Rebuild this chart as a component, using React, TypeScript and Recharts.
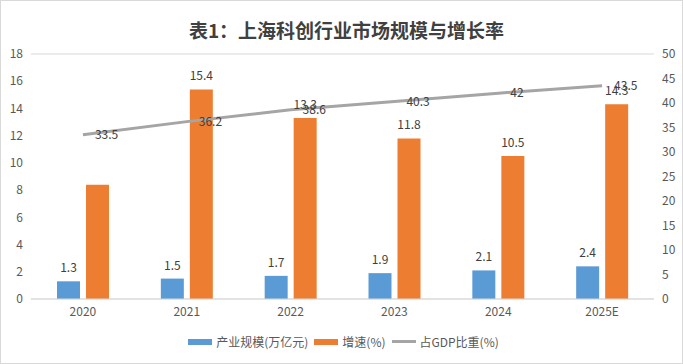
import React from 'react';
import {
    ComposedChart,
    Bar,
    Line,
    XAxis,
    YAxis,
    CartesianGrid,
    LabelList,
} from 'recharts';

const years = ['2020', '2021', '2022', '2023', '2024', '2025E'];
const scaleValues = [1.3, 1.5, 1.7, 1.9, 2.1, 2.4];
const growthValues = [8.4, 15.4, 13.3, 11.8, 10.5, 14.3];
// the 2020 growth bar has no label in the original
const growthLabelShown = [false, true, true, true, true, true];
const gdpShareValues = [33.5, 36.2, 38.6, 40.3, 42, 43.5];
const leftTicks = [0, 2, 4, 6, 8, 10, 12, 14, 16, 18];
const rightTicks = [0, 5, 10, 15, 20, 25, 30, 35, 40, 45, 50];

const seriesNames = ['产业规模(万亿元)', '增速(%)', '占GDP比重(%)'];
const colors = ['#5B9BD5', '#ED7D31', '#A5A5A5'];

const FONT = '"Noto Sans CJK SC", "Noto Sans", sans-serif';

const chartData = years.map((year, i) => ({
    year,
    scale: scaleValues[i],
    growth: growthValues[i],
    share: gdpShareValues[i],
}));

const BarTopLabel = ({ x, y, width, value, index, hideFor }: any) => {
    if (hideFor && !hideFor[index]) return null;
    return (
        <text
            x={Number(x) + Number(width) / 2}
            y={Number(y) - 9}
            textAnchor="middle"
            fontSize={12}
            fontFamily={FONT}
            fill="#404040"
        >
            {value}
        </text>
    );
};

const LegendBox = () => (
    <div
        style={{
            position: 'absolute',
            top: 332,
            left: 0,
            width: 683,
            display: 'flex',
            justifyContent: 'center',
            alignItems: 'center',
            fontFamily: FONT,
            fontSize: 12,
            color: '#595959',
            paddingLeft: 4,
        }}
    >
        {seriesNames.map((name, i) => (
            <div key={name} style={{ display: 'flex', alignItems: 'center', marginRight: 6 }}>
                <span
                    style={{
                        display: 'inline-block',
                        width: 24,
                        height: i === 2 ? 3 : 6,
                        background: colors[i],
                        marginRight: 4,
                    }}
                />
                <span>{name}</span>
            </div>
        ))}
    </div>
);

export default function App() {
    return (
        <div
            style={{
                position: 'relative',
                width: 683,
                height: 364,
                background: '#fff',
                boxSizing: 'border-box',
                border: '1px solid #d9d9d9',
                overflow: 'hidden',
            }}
        >
            <style>{'body{margin:0;}'}</style>
            <div
                style={{
                    position: 'absolute',
                    top: 15,
                    left: 0,
                    width: 683,
                    textAlign: 'center',
                    fontFamily: FONT,
                    fontWeight: 700,
                    fontSize: 19,
                    color: '#404040',
                    paddingLeft: 4,
                }}
            >
                表1：上海科创行业市场规模与增长率
            </div>
            <ComposedChart
                width={681}
                height={362}
                data={chartData}
                margin={{ top: 53, right: 0, left: 0, bottom: 34 }}
                barGap={6}
                style={{ position: 'absolute', top: 0, left: 0 }}
            >
                <CartesianGrid vertical={false} stroke="#d9d9d9" />
                <XAxis
                    dataKey="year"
                    height={30}
                    tickLine={false}
                    axisLine={{ stroke: '#d9d9d9' }}
                    tick={{ fontSize: 12, fill: '#595959', fontFamily: FONT }}
                />
                <YAxis
                    yAxisId="left"
                    width={30}
                    domain={[0, 18]}
                    ticks={leftTicks}
                    tickLine={false}
                    axisLine={false}
                    tick={{ fontSize: 12, fill: '#595959', fontFamily: FONT }}
                />
                <YAxis
                    yAxisId="right"
                    orientation="right"
                    width={28}
                    domain={[0, 50]}
                    ticks={rightTicks}
                    tickLine={false}
                    axisLine={false}
                    tick={{ fontSize: 12, fill: '#595959', fontFamily: FONT }}
                />
                <Bar
                    yAxisId="left"
                    dataKey="scale"
                    name={seriesNames[0]}
                    fill={colors[0]}
                    barSize={23}
                    isAnimationActive={false}
                >
                    <LabelList dataKey="scale" content={<BarTopLabel />} />
                </Bar>
                <Bar
                    yAxisId="left"
                    dataKey="growth"
                    name={seriesNames[1]}
                    fill={colors[1]}
                    barSize={23}
                    isAnimationActive={false}
                >
                    <LabelList dataKey="growth" content={<BarTopLabel hideFor={growthLabelShown} />} />
                </Bar>
                <Line
                    yAxisId="right"
                    type="linear"
                    dataKey="share"
                    name={seriesNames[2]}
                    stroke={colors[2]}
                    strokeWidth={3}
                    dot={false}
                    isAnimationActive={false}
                >
                    <LabelList
                        dataKey="share"
                        position="right"
                        offset={12}
                        style={{ fontSize: 12, fill: '#404040', fontFamily: FONT }}
                    />
                </Line>
            </ComposedChart>
            <LegendBox />
        </div>
    );
}
